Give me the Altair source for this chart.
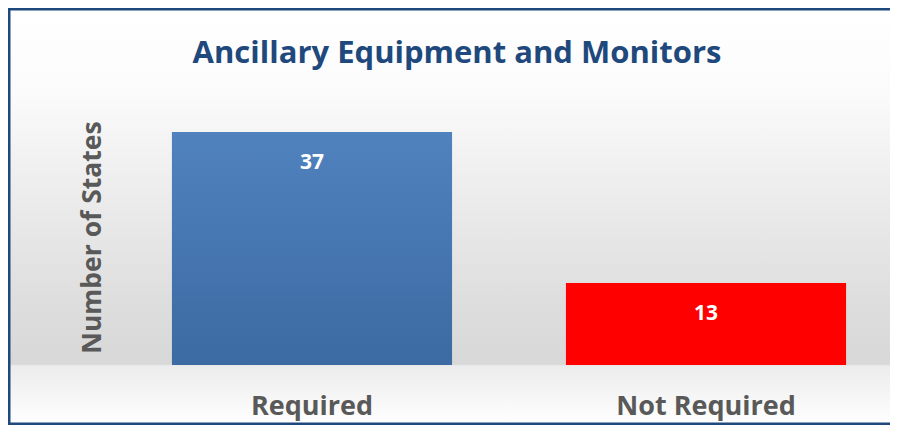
import altair as alt
import pandas as pd

categories = ["Required", "Not Required"]
values = [37, 13]

title_text = "Ancillary Equipment and Monitors"
y_title = "Number of States"

df = pd.DataFrame({"category": categories, "value": values})

L, T, W, H, R, B = 132, 105, 738, 252, 12, 60
FONT = "Open Sans"

x_enc = alt.X("category:N", sort=categories, title=None,
              scale=alt.Scale(paddingInner=0.289, paddingOuter=0.081),
              axis=alt.Axis(labelFontSize=27, labelFontWeight="bold", labelColor="#595959",
                            labelFont=FONT, ticks=False, domain=False, labelPadding=49,
                            labelBaseline="alphabetic", labelAngle=0, zindex=1))
y_enc = alt.Y("value:Q", scale=alt.Scale(domain=[0, 40], nice=False),
              axis=alt.Axis(title=y_title, labels=False, ticks=False, domain=False, grid=False,
                            titleFontSize=26.5, titleFontWeight="bold", titleColor="#595959",
                            titleFont=FONT, titleX=-48, titleY=H / 2 - 2, titleAngle=-90,
                            titleBaseline="middle", titleAlign="center", zindex=1))

total_h = T + H + B
base_frac = (T + H) / total_h

bg_grad = alt.Gradient(
    gradient="linear", x1=0, y1=0, x2=0, y2=1,
    stops=[
        alt.GradientStop(offset=0.0, color="#ffffff"),
        alt.GradientStop(offset=0.2, color="#fbfbfb"),
        alt.GradientStop(offset=0.45, color="#ececec"),
        alt.GradientStop(offset=0.7, color="#dedede"),
        alt.GradientStop(offset=base_frac - 0.002, color="#d8d8d8"),
        alt.GradientStop(offset=base_frac + 0.002, color="#ececec"),
        alt.GradientStop(offset=1.0, color="#ffffff"),
    ],
)

one = alt.Data(values=[{"k": 1}])

background = alt.Chart(one).mark_rect(fill=bg_grad, strokeWidth=0).encode(
    x=alt.value(-L), x2=alt.value(W + R + 60), y=alt.value(-T), y2=alt.value(H + B)
)

border = alt.Chart(one).mark_rect(fillOpacity=0, stroke="#1F497D", strokeWidth=3).encode(
    x=alt.value(-L + 1), x2=alt.value(W + R + 60), y=alt.value(-T + 1), y2=alt.value(H + B - 1)
)

blue_grad = alt.Gradient(
    gradient="linear", x1=0, y1=0, x2=0, y2=1,
    stops=[alt.GradientStop(offset=0, color="#5082BE"),
           alt.GradientStop(offset=1, color="#3C6AA2")],
)

base = alt.Chart(df).encode(x=x_enc, y=y_enc)

bar_req = base.transform_filter(alt.datum.category == "Required").mark_bar(fill=blue_grad)
bar_not = base.transform_filter(alt.datum.category == "Not Required").mark_bar(fill="#FF0000")

labels = base.mark_text(color="white", fontWeight="bold", fontSize=21, font=FONT,
                        baseline="middle", dy=31).encode(text="value:Q")

chart = alt.layer(background, bar_req, bar_not, labels, border).properties(
    width=W, height=H,
    autosize=alt.AutoSizeParams(type="none"),
    padding={"left": L, "top": T, "right": R, "bottom": B},
    title=alt.TitleParams(title_text, fontSize=31, fontWeight="bold", color="#1F497D",
                          font=FONT, anchor="middle", baseline="alphabetic", offset=-86,
                          dx=-52, zindex=1),
).configure_view(stroke=None)

chart.save("out.html", embed_options={"renderer": "svg", "actions": False})
